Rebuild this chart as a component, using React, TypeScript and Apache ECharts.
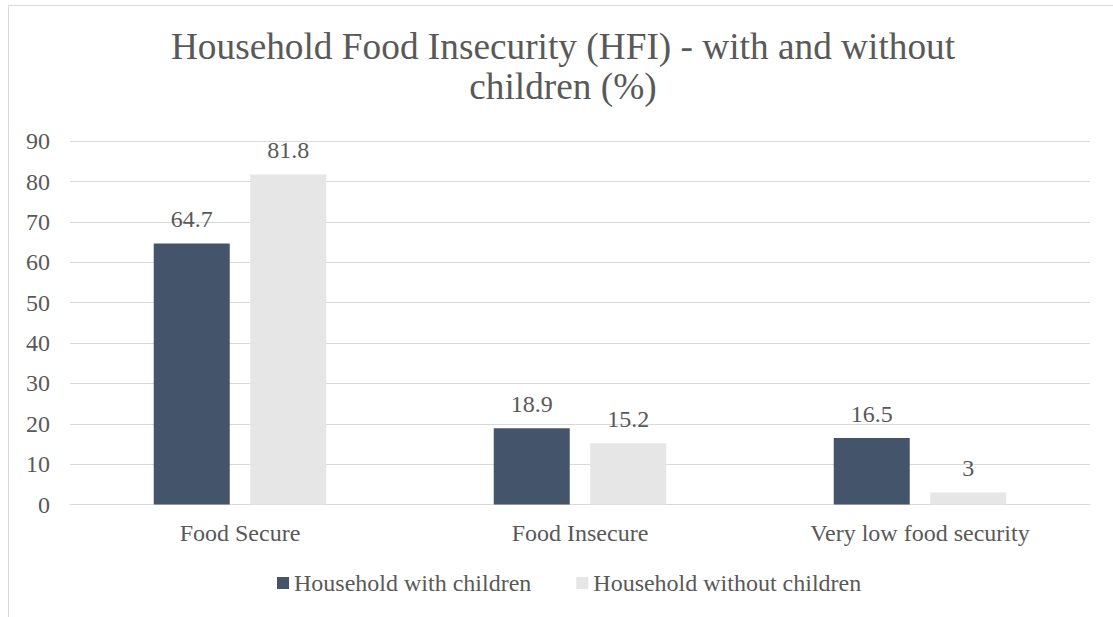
import React, { useEffect, useRef } from "react";
import * as echarts from "echarts";

// Chart data
const categories = ["Food Secure", "Food Insecure", "Very low food security"];
const withChildren = [64.7, 18.9, 16.5];
const withoutChildren = [81.8, 15.2, 3];
const seriesNames = ["Household with children", "Household without children"];
const yTicks = { min: 0, max: 90, interval: 10 };
const titleText = "Household Food Insecurity (HFI) - with and without\nchildren (%)";

const FONT = "Liberation Serif";
const TEXT = "#595959";
const GRID = "#D9D9D9";
const DARK = "#44546A";
const LIGHT = "#E7E6E6";

export default function App() {
  const ref = useRef<HTMLDivElement>(null);

  useEffect(() => {
    if (!ref.current) return;
    const chart = echarts.init(ref.current, undefined, { renderer: "svg" });

    const labelStyle = {
      show: true,
      position: "top" as const,
      distance: 12,
      fontFamily: FONT,
      fontSize: 24,
      lineHeight: 24,
      color: TEXT,
    };

    chart.setOption({
      animation: false,
      backgroundColor: "#FFFFFF",
      textStyle: { fontFamily: FONT },
      graphic: [
        {
          type: "rect",
          silent: true,
          shape: { x: 8.5, y: 5.5, width: 1120, height: 700 },
          style: { fill: "none", stroke: GRID, lineWidth: 1 },
        },
      ],
      title: {
        text: titleText,
        left: 563,
        top: 27,
        padding: 0,
        textAlign: "center",
        textStyle: {
          fontFamily: FONT,
          fontSize: 37.3,
          lineHeight: 39.5,
          fontWeight: "normal",
          color: TEXT,
        },
      },
      legend: {
        data: seriesNames,
        left: 277,
        top: 571,
        padding: 0,
        itemWidth: 12,
        itemHeight: 12,
        itemGap: 45,
        icon: "rect",
        textStyle: {
          fontFamily: FONT,
          fontSize: 24,
          lineHeight: 24,
          color: TEXT,
        },
      },
      grid: {
        left: 70,
        right: 23,
        top: 141.3,
        bottom: 112.5,
        containLabel: false,
      },
      xAxis: {
        type: "category",
        data: categories,
        axisLine: { show: true, lineStyle: { color: GRID, width: 1 } },
        axisTick: { show: false },
        axisLabel: {
          margin: 16.5,
          fontFamily: FONT,
          fontSize: 24,
          lineHeight: 24,
          color: TEXT,
        },
      },
      yAxis: {
        type: "value",
        min: yTicks.min,
        max: yTicks.max,
        interval: yTicks.interval,
        axisLine: { show: false },
        axisTick: { show: false },
        splitLine: { lineStyle: { color: GRID, width: 1 } },
        axisLabel: {
          margin: 20,
          fontFamily: FONT,
          fontSize: 24,
          color: TEXT,
        },
      },
      series: [
        {
          name: seriesNames[0],
          type: "bar",
          data: withChildren,
          barWidth: 76,
          barGap: "27%",
          itemStyle: { color: DARK },
          label: labelStyle,
        },
        {
          name: seriesNames[1],
          type: "bar",
          data: withoutChildren,
          barWidth: 76,
          barGap: "27%",
          itemStyle: { color: LIGHT },
          label: labelStyle,
        },
      ],
    });

    return () => chart.dispose();
  }, []);

  return (
    <div
      ref={ref}
      style={{ position: "fixed", left: 0, top: 0, width: 1113, height: 617 }}
    />
  );
}
